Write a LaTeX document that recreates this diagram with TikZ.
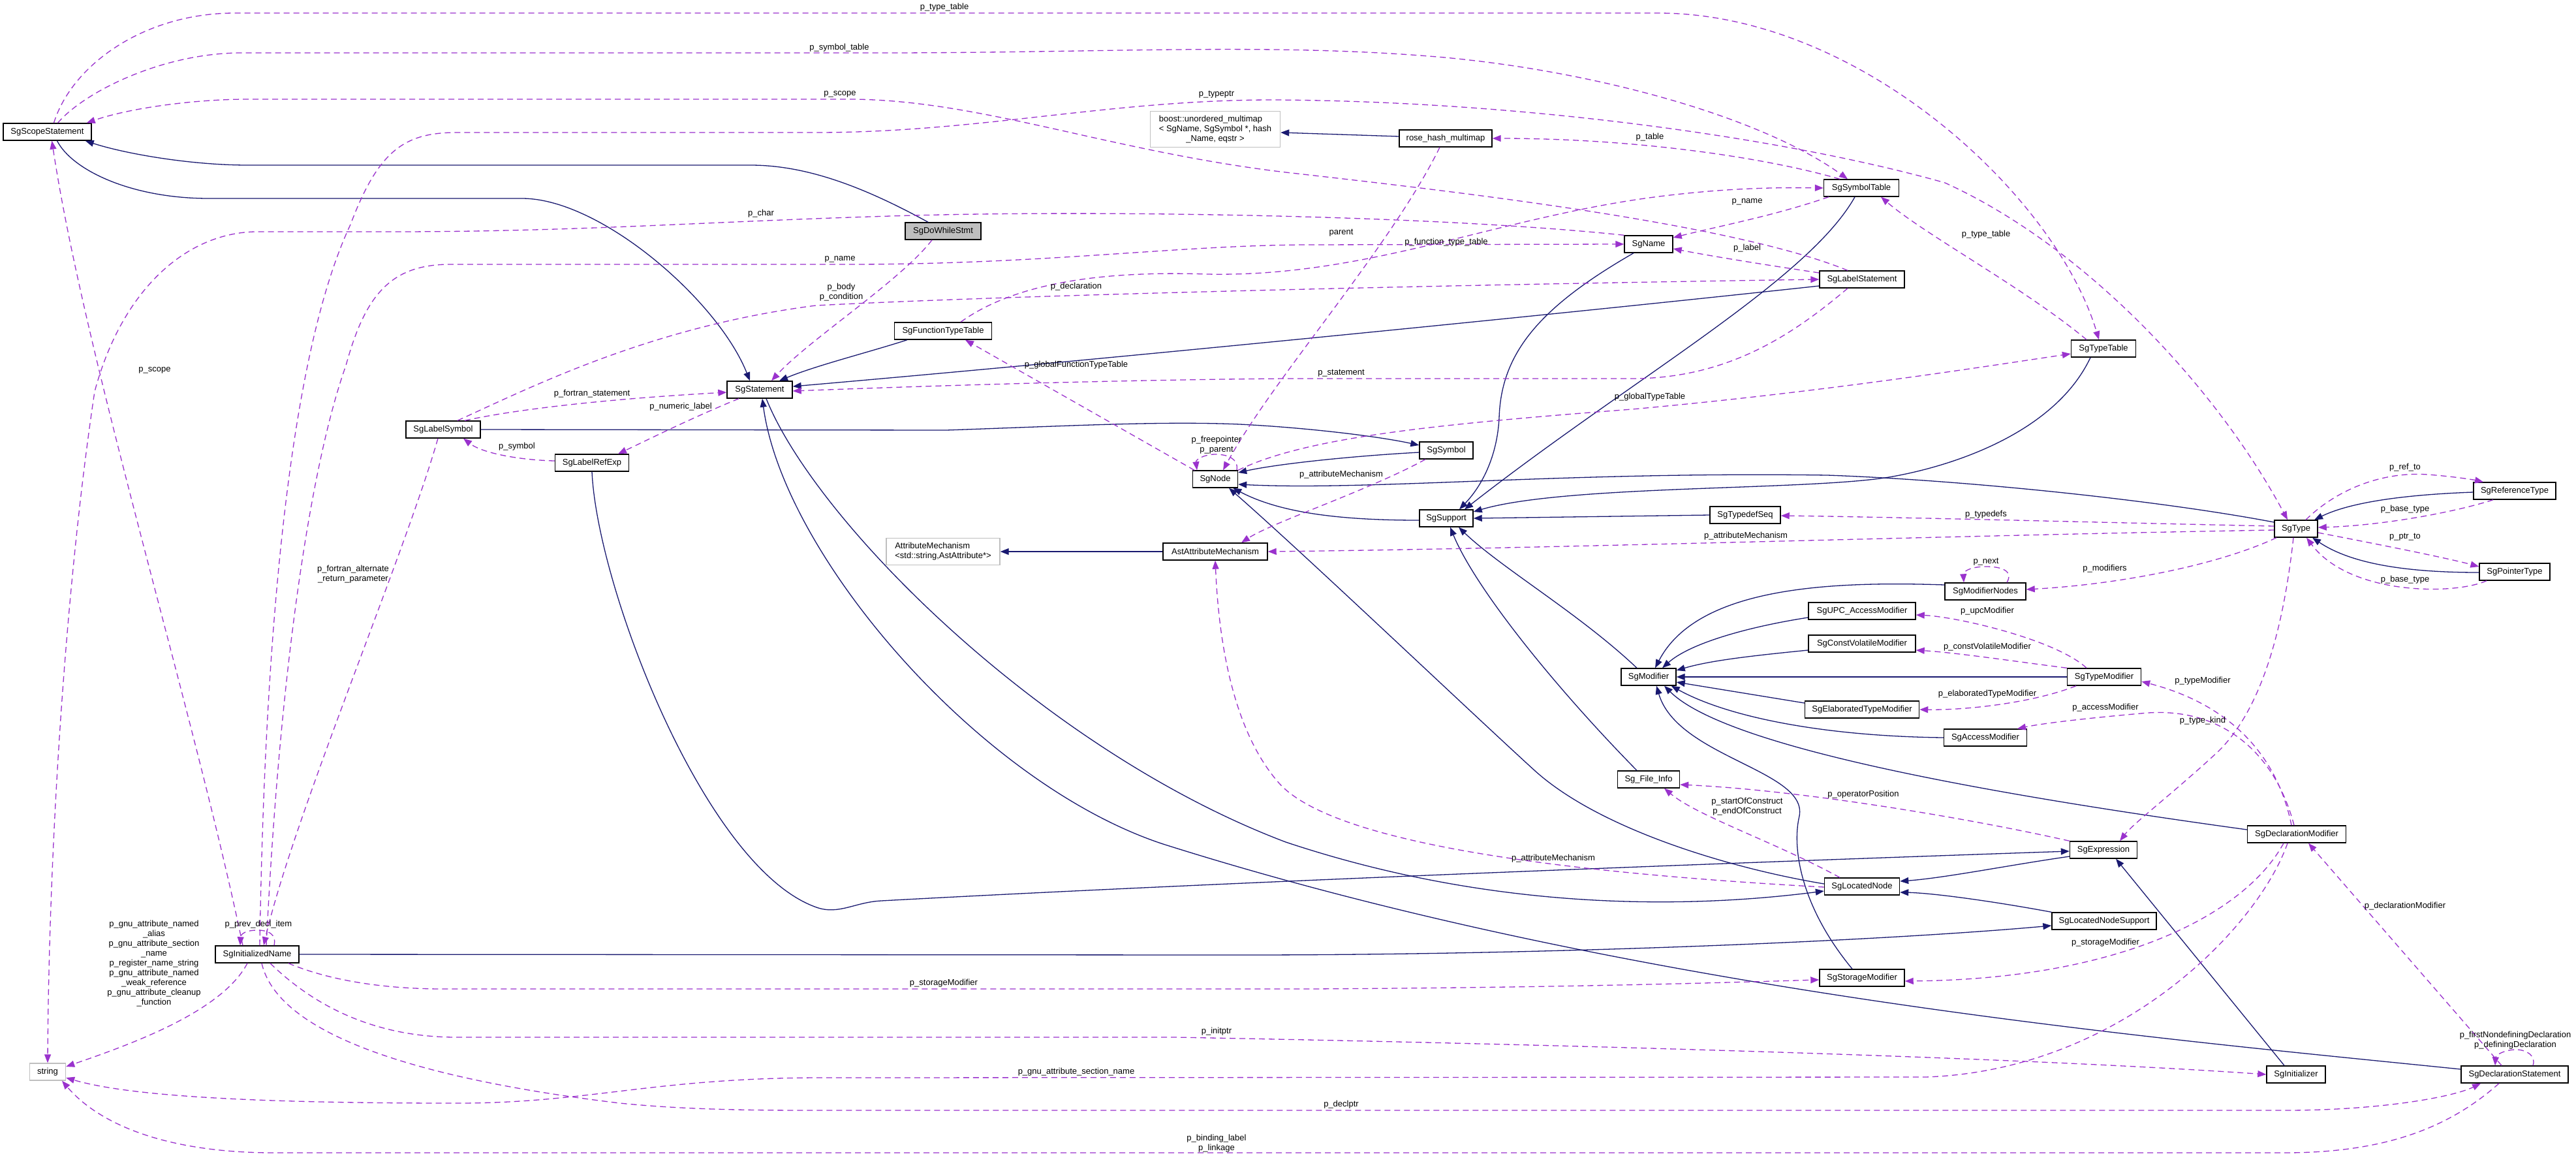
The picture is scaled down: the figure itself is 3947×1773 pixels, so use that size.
\documentclass[tikz,border=0pt]{standalone}
\usepackage{fontspec}
\setmainfont{Liberation Sans}
\usetikzlibrary{arrows.meta}
\definecolor{inhcol}{RGB}{25,25,112}
\definecolor{usecol}{RGB}{154,50,205}
\definecolor{grey75}{RGB}{191,191,191}
\begin{document}
\begin{tikzpicture}[x=1pt,y=-1pt,
 every node/.style={font=\fontsize{13}{15}\selectfont},
 box/.style={draw=black,line width=1.4pt,fill=white,minimum height=26pt,inner sep=0pt},
 gbox/.style={draw=grey75,line width=1.4pt,fill=white,inner sep=0pt},
 lab/.style={inner sep=0pt,align=center},
 inh/.style={draw=inhcol,line width=1.3pt,-{Triangle[length=13pt,width=10pt]}},
 use/.style={draw=usecol,line width=1.3pt,dash pattern=on 9pt off 6pt,-{Triangle[length=13pt,width=10pt]}},
 ]
\path[use as bounding box,fill=white] (0,0) rectangle (3947,1773);

% ---------------- nodes ----------------
\node[box,minimum width=135pt] (scope) at (72.5,202) {SgScopeStatement};
\node[box,fill=grey75,minimum width=116pt] (dowhile) at (1445,354) {SgDoWhileStmt};
\node[gbox,minimum width=199pt,minimum height=55pt] (boost) at (1862,198) {\begin{tabular}{@{}l@{}}boost::unordered\_multimap\\< SgName, SgSymbol *, hash\\\multicolumn{1}{@{}c@{}}{\_Name, eqstr >}\end{tabular}};
\node[box,minimum width=142pt] (rose) at (2215,212) {rose\_hash\_multimap};
\node[box,minimum width=115pt] (symtab) at (2852,288) {SgSymbolTable};
\node[box,minimum width=74pt] (sgname) at (2526,374) {SgName};
\node[box,minimum width=130pt] (labstmt) at (2853,428) {SgLabelStatement};
\node[box,minimum width=99pt] (typetab) at (3223,534) {SgTypeTable};
\node[box,minimum width=149pt] (ftt) at (1445,507) {SgFunctionTypeTable};
\node[box,minimum width=100pt] (stmt) at (1164,597) {SgStatement};
\node[box,minimum width=114pt] (labsym) at (679,658) {SgLabelSymbol};
\node[box,minimum width=113pt] (labref) at (907,709) {SgLabelRefExp};
\node[box,minimum width=69pt] (sgnode) at (1862,734) {SgNode};
\node[box,minimum width=82pt] (sgsymbol) at (2216,690) {SgSymbol};
\node[box,minimum width=82pt] (support) at (2216,794) {SgSupport};
\node[box,minimum width=108pt] (tdseq) at (2674,789) {SgTypedefSeq};
\node[gbox,minimum width=174pt,minimum height=41pt] (attrmech) at (1445,845) {\begin{tabular}{@{}l@{}}AttributeMechanism\\<std::string,AstAttribute*>\end{tabular}};
\node[box,minimum width=160pt] (astattr) at (1862,845) {AstAttributeMechanism};
\node[box,minimum width=66pt] (sgtype) at (3518,810) {SgType};
\node[box,minimum width=126pt] (reftype) at (3853,752) {SgReferenceType};
\node[box,minimum width=108pt] (ptrtype) at (3853,876) {SgPointerType};
\node[box,minimum width=124pt] (modnodes) at (3042,906) {SgModifierNodes};
\node[box,minimum width=164pt] (upc) at (2853,936) {SgUPC\_AccessModifier};
\node[box,minimum width=164pt] (cv) at (2853,986) {SgConstVolatileModifier};
\node[box,minimum width=84pt] (modifier) at (2526,1037) {SgModifier};
\node[box,minimum width=113pt] (typemod) at (3224,1037) {SgTypeModifier};
\node[box,minimum width=175pt] (elab) at (2853,1087) {SgElaboratedTypeModifier};
\node[box,minimum width=127pt] (access) at (3042,1130) {SgAccessModifier};
\node[box,minimum width=95pt] (fileinfo) at (2526,1194) {Sg\_File\_Info};
\node[box,minimum width=103pt] (expr) at (3223,1302) {SgExpression};
\node[box,minimum width=151pt] (declmod) at (3519,1278) {SgDeclarationModifier};
\node[box,minimum width=115pt] (locnode) at (2853,1358) {SgLocatedNode};
\node[box,minimum width=160pt] (locsup) at (3224,1411) {SgLocatedNodeSupport};
\node[box,minimum width=128pt] (initname) at (394,1462) {SgInitializedName};
\node[box,minimum width=130pt] (storage) at (2853,1498) {SgStorageModifier};
\node[gbox,minimum width=55pt,minimum height=26pt] (strnode) at (73,1642) {string};
\node[box,minimum width=90pt] (initializer) at (3518,1646) {SgInitializer};
\node[box,minimum width=164pt] (declstmt) at (3853,1646) {SgDeclarationStatement};

% ---------------- inheritance ----------------
\draw[inh] ([xshift=-23pt]dowhile.north) .. controls (1330,290) and (1240,253) .. (1150,253) -- (380,253) .. controls (290,253) and (190,235) .. ([xshift=-10pt]scope.south east);
\draw[inh] ([xshift=15pt]scope.south) .. controls (110,260) and (200,304) .. (320,304) -- (800,304) .. controls (920,304) and (1100,460) .. ([xshift=-15pt]stmt.north);
\draw[inh] ([xshift=-55pt]ftt.south) .. controls (1330,540) and (1250,560) .. ([xshift=30pt]stmt.north);
\draw[inh] ([yshift=-10pt]labstmt.west) .. controls (2400,480) and (1700,550) .. ([yshift=5pt]stmt.east);
\draw[inh] ([yshift=8pt]declstmt.west) .. controls (3300,1590) and (2500,1520) .. (1782,1293) .. controls (1500,1200) and (1200,850) .. ([xshift=4pt]stmt.south);
\draw[inh] ([xshift=10pt]stmt.south) .. controls (1250,800) and (1600,1150) .. (1970,1290) .. controls (2300,1400) and (2600,1390) .. ([yshift=-7pt]locnode.west);
\draw[inh] (labref.south) .. controls (915,900) and (1080,1330) .. (1251,1390) .. controls (1285,1402) and (1310,1382) .. (1350,1380) .. controls (1900,1350) and (2700,1320) .. ([yshift=-2pt]expr.west);
\draw[inh] (initname.east) -- (1900,1463) .. controls (2400,1463) and (2900,1440) .. ([yshift=-7pt]locsup.west);
\draw[inh] (locsup.north west) .. controls (3050,1380) and (2960,1368) .. ([yshift=-9pt]locnode.east);
\draw[inh] ([yshift=-10pt]expr.west) .. controls (3080,1325) and (2980,1345) .. ([yshift=8pt]locnode.east);
\draw[inh] ([xshift=-18pt]initializer.north) -- ([xshift=19pt]expr.south);
\draw[inh] ([yshift=4pt]locnode.west) .. controls (2650,1330) and (2450,1270) .. (2351,1180) .. controls (2250,1088) and (2000,850) .. ([xshift=21pt]sgnode.south);
\draw[inh] ([yshift=-3pt]sgsymbol.west) .. controls (2080,698) and (1960,710) .. ([yshift=10pt]sgnode.east);
\draw[inh] (labsym.east) -- (1450,659) .. controls (1650,652) and (1780,645) .. (1900,650) .. controls (2000,655) and (2110,668) .. ([yshift=8pt]sgsymbol.west);
\draw[inh] ([yshift=10pt]sgtype.west) .. controls (3300,765) and (3000,735) .. (2800,728) .. controls (2400,722) and (2100,752) .. ([yshift=-8pt]sgnode.east);
\draw[inh] ([yshift=-3pt]support.west) .. controls (2050,797) and (1960,785) .. ([xshift=-8pt]sgnode.south east);
\draw[inh] ([xshift=-20pt]typetab.south) .. controls (3150,660) and (3000,712) .. (2900,730) .. controls (2780,752) and (2400,742) .. ([yshift=10pt]support.east);
\draw[inh] ([xshift=-10pt]symtab.south) .. controls (2770,430) and (2500,580) .. ([xshift=28pt]support.north);
\draw[inh] ([xshift=-23pt]sgname.south) .. controls (2360,470) and (2300,540) .. (2297,640) .. controls (2294,700) and (2270,745) .. ([xshift=20pt]support.north);
\draw[inh] ([xshift=-18pt]modifier.north) .. controls (2420,940) and (2300,870) .. ([xshift=19pt]support.south);
\draw[inh] ([xshift=-18pt]fileinfo.north) .. controls (2380,1050) and (2260,900) .. ([xshift=6pt]support.south);
\draw[inh] (tdseq.west) -- (support.east);
\draw[inh] ([xshift=-15pt]storage.north) .. controls (2760,1390) and (2745,1300) .. (2757,1250) .. controls (2770,1180) and (2570,1160) .. ([xshift=12pt]modifier.south);
\draw[inh] ([yshift=7pt]declmod.west) .. controls (3000,1210) and (2640,1140) .. ([xshift=24pt]modifier.south);
\draw[inh] ([yshift=10pt]elab.west) -- ([yshift=-8pt]modifier.east);
\draw[inh] (access.west) .. controls (2800,1128) and (2650,1100) .. ([xshift=-8pt]modifier.south east);
\draw[inh] (typemod.west) -- (modifier.east);
\draw[inh] ([yshift=-10pt]cv.west) .. controls (2680,1005) and (2620,1012) .. ([yshift=10pt]modifier.east);
\draw[inh] ([yshift=-10pt]upc.west) .. controls (2680,960) and (2590,985) .. ([xshift=21pt]modifier.north);
\draw[inh] ([yshift=10pt]modnodes.west) .. controls (2800,890) and (2600,900) .. ([xshift=10pt]modifier.north);
\draw[inh] ([yshift=-2pt]reftype.west) .. controls (3680,758) and (3600,770) .. ([xshift=28pt]sgtype.north);
\draw[inh] ([yshift=-1pt]ptrtype.west) .. controls (3680,877) and (3600,862) .. ([xshift=25pt]sgtype.south);
\draw[inh] (astattr.west) -- (attrmech.east);
\draw[inh] ([yshift=3pt]rose.west) -- ([yshift=-5pt]boost.east);

% ---------------- usage ----------------
\draw[use] ([xshift=10pt]scope.north) .. controls (110,100) and (220,20) .. (360,20) -- (2540,20) .. controls (2850,20) and (3150,300) .. ([xshift=-7pt]typetab.north);
\draw[use] ([xshift=16pt]scope.north) .. controls (130,140) and (250,81) .. (370,81) -- (1350,81) .. controls (1700,81) and (1950,65) .. (2213,88) .. controls (2450,110) and (2700,180) .. ([xshift=-21pt]symtab.north);
\draw[use] ([xshift=-22pt]labstmt.north) .. controls (2650,340) and (2200,290) .. (1970,264) .. controls (1700,232) and (1500,152) .. (1300,152) -- (380,152) .. controls (300,152) and (200,165) .. ([xshift=-8pt]scope.north east);
\draw[use] ([xshift=4pt]initname.north) .. controls (405,1000) and (440,550) .. (537,344) .. controls (580,230) and (620,203) .. (700,203) -- (1250,203) .. controls (1500,203) and (1700,153) .. (1950,153) .. controls (2350,155) and (2750,215) .. (2980,280) .. controls (3200,380) and (3400,600) .. ([xshift=-13pt]sgtype.north);
\draw[use] (sgname.north west) .. controls (2200,330) and (1700,322) .. (1400,330) .. controls (1100,338) and (900,355) .. (600,355) -- (390,355) .. controls (280,358) and (185,450) .. (145,600) .. controls (100,900) and (75,1300) .. (strnode.north);
\draw[use] ([xshift=14pt]initname.north) .. controls (430,1000) and (480,700) .. (530,560) .. controls (560,450) and (600,405) .. (690,405) -- (1300,405) .. controls (1600,405) and (1800,376) .. (2000,375) -- (sgname.west);
\draw[use] ([xshift=-17pt]dowhile.south) .. controls (1380,430) and (1240,520) .. ([xshift=18pt]stmt.north);
\draw[use] ([xshift=27pt]ftt.north) .. controls (1560,430) and (1700,415) .. (1850,420) .. controls (2100,425) and (2300,330) .. (2550,300) .. controls (2650,288) and (2720,287) .. (symtab.west);
\draw[use] ([xshift=22pt]labsym.north) .. controls (820,590) and (1000,500) .. (1250,468) .. controls (1600,450) and (2300,435) .. (labstmt.west);
\draw[use] ([xshift=-32pt]sgnode.north) -- ([xshift=34pt]ftt.south);
\draw[use] ([xshift=-22pt]labstmt.south) .. controls (2750,510) and (2650,580) .. (2500,580) -- (1970,580) .. controls (1700,582) and (1400,592) .. ([yshift=-2pt]stmt.east);
\draw[use] ([xshift=-33pt]symtab.north) .. controls (2700,240) and (2500,212) .. (rose.east);
\draw[use] ([xshift=-50pt]symtab.south) .. controls (2720,330) and (2640,345) .. ([yshift=10pt]sgname.east);
\draw[use] ([yshift=10pt]labstmt.west) .. controls (2700,405) and (2620,392) .. ([yshift=-7pt]sgname.east);
\draw[use] ([xshift=-9pt]rose.south) .. controls (2130,380) and (1950,580) .. ([xshift=12pt]sgnode.north);
\draw[use] ([xshift=-26pt]typetab.north) .. controls (3100,440) and (2950,360) .. ([xshift=30pt]symtab.south);
\draw[use] (sgnode.north east) .. controls (2000,670) and (2200,650) .. (2500,627) .. controls (2800,600) and (3050,560) .. ([yshift=-8pt]typetab.west);
\draw[use] ([xshift=-32pt]sgsymbol.south) .. controls (2100,750) and (1950,800) .. ([xshift=40pt]astattr.north);
\draw[use] ([yshift=-2pt]sgtype.west) .. controls (3000,820) and (2400,840) .. (astattr.east);
\draw[use] ([yshift=-1pt]locnode.west) .. controls (2450,1340) and (2050,1300) .. (1960,1200) .. controls (1880,1110) and (1866,950) .. (astattr.south);
\draw[use] ([xshift=-34pt]locnode.north) .. controls (2720,1290) and (2600,1250) .. ([xshift=24pt]fileinfo.south);
\draw[use] (expr.north west) .. controls (3000,1250) and (2750,1210) .. ([yshift=-8pt]fileinfo.east);
\draw[use] ([yshift=4pt]sgtype.west) .. controls (3200,800) and (2900,792) .. ([yshift=-1pt]tdseq.east);
\draw[use] ([xshift=-30pt]sgtype.south) .. controls (3400,865) and (3250,895) .. ([yshift=3pt]modnodes.east);
\draw[use] ([xshift=33pt]modnodes.north) .. controls (3085,875) and (3068,868) .. (3043,868) .. controls (3018,868) and (3008,876) .. ([xshift=-33pt]modnodes.north);
\draw[use] ([xshift=15pt]sgtype.north) .. controls (3580,750) and (3650,722) .. (3720,727) .. controls (3760,730) and (3790,735) .. ([xshift=-48pt]reftype.north);
\draw[use] ([xshift=-33pt]reftype.south) .. controls (3760,785) and (3650,805) .. ([yshift=2pt]sgtype.east);
\draw[use] ([yshift=-6pt]sgtype.east) .. controls (3650,835) and (3750,855) .. ([yshift=8pt]ptrtype.west);
\draw[use] ([xshift=-43pt]ptrtype.south) .. controls (3760,912) and (3600,912) .. ([xshift=16pt]sgtype.south);
\draw[use] ([xshift=-4pt]sgtype.south) .. controls (3500,950) and (3470,1080) .. (3400,1150) .. controls (3330,1215) and (3270,1260) .. ([xshift=25pt]expr.north);
\draw[use] ([xshift=-27pt]typemod.north) .. controls (3150,980) and (3000,945) .. ([yshift=-6pt]upc.east);
\draw[use] (typemod.north west) .. controls (3100,1015) and (3000,1000) .. ([yshift=-10pt]cv.east);
\draw[use] ([xshift=-43pt]typemod.south) .. controls (3120,1075) and (3020,1088) .. (elab.east);
\draw[use] ([xshift=-8pt]declmod.north) .. controls (3490,1160) and (3420,1080) .. ([yshift=-7pt]typemod.east);
\draw[use] ([xshift=-4pt]declmod.north) .. controls (3485,1150) and (3400,1080) .. (3280,1093) .. controls (3200,1100) and (3130,1108) .. ([xshift=49pt]access.north);
\draw[use] ([xshift=-20pt]declmod.south) .. controls (3440,1400) and (3250,1500) .. ([yshift=-5pt]storage.east);
\draw[use] ([xshift=-14pt]declmod.south) .. controls (3460,1420) and (3250,1640) .. (2950,1650) -- (1250,1651) .. controls (1000,1652) and (900,1690) .. (700,1690) .. controls (400,1690) and (200,1680) .. ([yshift=-9pt]strnode.east);
\draw[use] ([xshift=-24pt]declstmt.south) .. controls (3750,1730) and (3650,1766) .. (3500,1766) -- (420,1766) .. controls (250,1766) and (150,1720) .. ([xshift=22pt]strnode.south);
\draw[use] ([xshift=7pt]initname.south) .. controls (430,1600) and (700,1660) .. (950,1690) .. controls (1050,1700) and (1150,1701) .. (1250,1701) -- (3500,1701) .. controls (3650,1701) and (3760,1680) .. ([xshift=-52pt]declstmt.south);
\draw[use] ([xshift=20pt]initname.south) .. controls (470,1530) and (560,1589) .. (700,1589) -- (1800,1589) .. controls (2400,1600) and (3100,1620) .. (initializer.west);
\draw[use] ([xshift=48pt]initname.south) .. controls (500,1500) and (580,1515) .. (680,1515) -- (2000,1515) .. controls (2400,1513) and (2650,1505) .. ([yshift=-3pt]storage.west);
\draw[use] ([xshift=-15pt]initname.south) .. controls (340,1550) and (200,1600) .. ([yshift=8pt]strnode.east);
\draw[use] ([xshift=26pt]initname.north) .. controls (424,1430) and (410,1425) .. (394,1425) .. controls (378,1425) and (369,1430) .. ([xshift=-26pt]initname.north);
\draw[use] ([xshift=-8pt]labsym.south) .. controls (620,850) and (450,1250) .. ([xshift=10pt]initname.north);
\draw[use] ([xshift=-22pt]initname.north) .. controls (300,1100) and (130,550) .. ([xshift=7pt]scope.south);
\draw[use] ([yshift=3pt]labref.west) .. controls (800,705) and (740,695) .. ([xshift=31pt]labsym.south);
\draw[use] ([xshift=33pt]labsym.north) .. controls (800,625) and (950,610) .. ([yshift=-4pt]stmt.west);
\draw[use] ([xshift=-32pt]stmt.south) .. controls (1060,640) and (990,675) .. ([xshift=40pt]labref.north);
\draw[use] ([xshift=-20pt]declstmt.north) -- ([xshift=18pt]declmod.south);
\draw[use] ([xshift=28pt]declstmt.north) .. controls (3886,1618) and (3872,1608) .. (3855,1608) .. controls (3838,1608) and (3824,1616) .. ([xshift=-30pt]declstmt.north);
\draw[use] ([xshift=33pt]sgnode.north) .. controls (1898,702) and (1880,696) .. (1862,696) .. controls (1845,696) and (1832,704) .. ([xshift=-28pt]sgnode.north);

% ---------------- labels ----------------
\node[lab] (l1) at (1447,11) {p\_type\_table};
\node[lab] (l2) at (1286,73) {p\_symbol\_table};
\node[lab] (l3) at (1287,144) {p\_scope};
\node[lab] (l4) at (1864,145) {p\_typeptr};
\node[lab] (l5) at (1166,327) {p\_char};
\node[lab] (l6) at (1287,397) {p\_name};
\node[lab] (l7) at (1289,448) {p\_body\\p\_condition};
\node[lab] (l8) at (1649,439) {p\_declaration};
\node[lab] (l9) at (1649,559) {p\_globalFunctionTypeTable};
\node[lab] (l10) at (2528,210) {p\_table};
\node[lab] (l11) at (2677,309) {p\_name};
\node[lab] (l12) at (2055,357) {parent};
\node[lab] (l13) at (2216,371) {p\_function\_type\_table};
\node[lab] (l14) at (2677,380) {p\_label};
\node[lab] (l15) at (2055,572) {p\_statement};
\node[lab] (l16) at (3043,359) {p\_type\_table};
\node[lab] (l17) at (237,567) {p\_scope};
\node[lab] (l18) at (907,603) {p\_fortran\_statement};
\node[lab] (l19) at (792,684) {p\_symbol};
\node[lab] (l20) at (541,880) {p\_fortran\_alternate\\\_return\_parameter};
\node[lab] (l21) at (1043,623) {p\_numeric\_label};
\node[lab] (l22) at (1864,682) {p\_freepointer\\p\_parent};
\node[lab] (l23) at (2528,608) {p\_globalTypeTable};
\node[lab] (l24) at (2055,727) {p\_attributeMechanism};
\node[lab] (l25) at (2675,821) {p\_attributeMechanism};
\node[lab] (l26) at (3043,788) {p\_typedefs};
\node[lab] (l27) at (3685,716) {p\_ref\_to};
\node[lab] (l28) at (3685,780) {p\_base\_type};
\node[lab] (l29) at (3685,823) {p\_ptr\_to};
\node[lab] (l30) at (3685,888) {p\_base\_type};
\node[lab] (l31) at (3043,861) {p\_next};
\node[lab] (l32) at (3225,871) {p\_modifiers};
\node[lab] (l33) at (3045,936) {p\_upcModifier};
\node[lab] (l34) at (3045,991) {p\_constVolatileModifier};
\node[lab] (l35) at (3375,1043) {p\_typeModifier};
\node[lab] (l36) at (3045,1063) {p\_elaboratedTypeModifier};
\node[lab] (l37) at (3226,1084) {p\_accessModifier};
\node[lab] (l38) at (3375,1104) {p\_type\_kind};
\node[lab] (l39) at (2855,1217) {p\_operatorPosition};
\node[lab] (l40) at (2677,1236) {p\_startOfConstruct\\p\_endOfConstruct};
\node[lab] (l41) at (2380,1315) {p\_attributeMechanism};
\node[lab] (l42) at (3685,1388) {p\_declarationModifier};
\node[lab] (l43) at (3226,1444) {p\_storageModifier};
\node[lab] (l44) at (1446,1506) {p\_storageModifier};
\node[lab] (l45) at (1864,1580) {p\_initptr};
\node[lab] (l46) at (1649,1642) {p\_gnu\_attribute\_section\_name};
\node[lab] (l47) at (1864,1752) {p\_binding\_label\\p\_linkage};
\node[lab] (l48) at (2055,1692) {p\_declptr};
\node[lab] (l49) at (3854,1594) {p\_firstNondefiningDeclaration\\p\_definingDeclaration};
\node[lab] (l50) at (236,1476) {p\_gnu\_attribute\_named\\\_alias\\p\_gnu\_attribute\_section\\\_name\\p\_register\_name\_string\\p\_gnu\_attribute\_named\\\_weak\_reference\\p\_gnu\_attribute\_cleanup\\\_function};
\node[lab] (l51) at (396,1416) {p\_prev\_decl\_item};
\end{tikzpicture}
\end{document}
